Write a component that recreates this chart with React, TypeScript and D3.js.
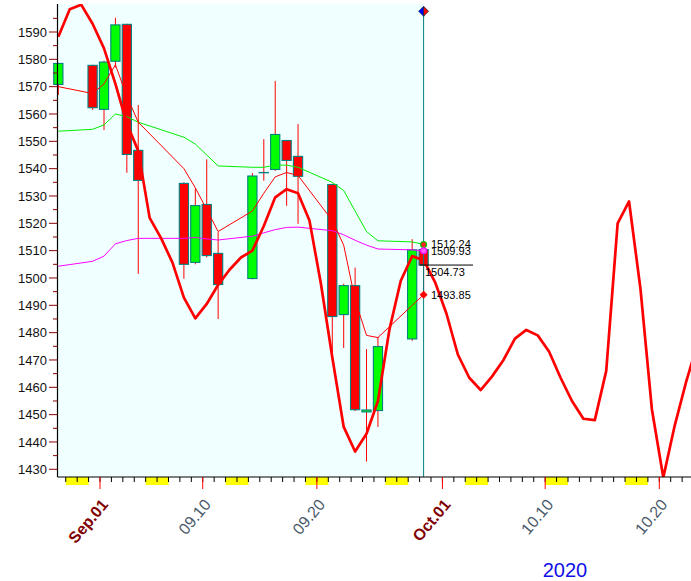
import React from "react"
import * as d3 from "d3"

// trading days with OHLC
const tradingDays = [
  "2020-08-28", "2020-08-31", "2020-09-01", "2020-09-02", "2020-09-03", "2020-09-04",
  "2020-09-08", "2020-09-09", "2020-09-10", "2020-09-11", "2020-09-14", "2020-09-15",
  "2020-09-16", "2020-09-17", "2020-09-18", "2020-09-21", "2020-09-22", "2020-09-23",
  "2020-09-24", "2020-09-25", "2020-09-28", "2020-09-29",
]
const opens = [1570.8, 1577.8, 1561.7, 1579.3, 1592.8, 1546.7, 1534.6, 1505.7, 1526.9, 1509.0, 1499.8, 1538.5, 1539.7, 1550.3, 1544.5, 1534.2, 1486.6, 1497.2, 1451.0, 1451.5, 1477.7, 1510.4]
const closes = [1578.5, 1562.3, 1579.0, 1592.6, 1545.2, 1535.7, 1505.0, 1526.5, 1508.2, 1497.6, 1537.3, 1538.6, 1552.5, 1543.0, 1537.2, 1485.9, 1497.2, 1451.8, 1451.7, 1474.9, 1510.3, 1504.73]
const highs = [1578.7, 1578.0, 1579.5, 1595.2, 1593.0, 1563.3, 1535.0, 1532.8, 1543.4, 1516.8, 1538.4, 1550.8, 1572.1, 1550.5, 1556.3, 1534.5, 1497.9, 1503.8, 1474.0, 1478.4, 1514.2, 1511.0]
const lows = [1567.0, 1561.5, 1554.1, 1577.0, 1538.5, 1501.5, 1499.7, 1505.0, 1507.5, 1485.0, 1499.5, 1535.6, 1539.2, 1526.4, 1519.8, 1470.4, 1474.4, 1451.3, 1432.8, 1445.5, 1477.0, 1494.0]

// moving averages on trading days
const fastMA = [1570, 1567.5, 1571, 1578, 1566.5, 1557, 1540, 1533, 1525, 1517, 1524.5, 1531, 1537, 1538.6, 1537.5, 1521, 1512, 1492, 1479, 1478.2, 1490, 1493.85]
const greenMA = [1553.7, 1554.4, 1556, 1560, 1559, 1557, 1551.5, 1549, 1545, 1541, 1540.5, 1540.5, 1541.3, 1541.3, 1540.5, 1535, 1532, 1524.5, 1517, 1513.6, 1513.2, 1512.24]
const magentaMA = [1504.3, 1506.1, 1508, 1512.5, 1513.7, 1514.5, 1514.5, 1514.8, 1514.3, 1513.9, 1515.3, 1516.5, 1517.7, 1518.5, 1518.6, 1517.3, 1515.8, 1513.8, 1512, 1510.6, 1510.3, 1509.93]

// cycle line, one value per calendar day from Aug 28 to Oct 23
const cycleStart = "2020-08-28"
const cycleValues = [
  1588.3, 1598.3, 1600, 1593, 1584, 1571, 1556.5, 1546.5, 1522, 1514.6,
  1505.6, 1492.8, 1485.2, 1490.5, 1497.5, 1503, 1507.5, 1510, 1519, 1529.5,
  1532.5, 1531, 1521, 1498, 1471, 1445.5, 1436.5, 1443, 1455, 1481,
  1499, 1508, 1506.5, 1498.5, 1487, 1472, 1463.5, 1459, 1464, 1470,
  1477.8, 1481, 1479, 1473, 1463.5, 1455, 1448.5, 1448, 1466, 1520,
  1528, 1496, 1452, 1427, 1446, 1462, 1476,
]

const yTicks = [1430, 1440, 1450, 1460, 1470, 1480, 1490, 1500, 1510, 1520, 1530, 1540, 1550, 1560, 1570, 1580, 1590]
const xLabels = [
  { date: "2020-09-01", text: "Sep.01", month: true },
  { date: "2020-09-10", text: "09.10", month: false },
  { date: "2020-09-20", text: "09.20", month: false },
  { date: "2020-10-01", text: "Oct.01", month: true },
  { date: "2020-10-10", text: "10.10", month: false },
  { date: "2020-10-20", text: "10.20", month: false },
]
const lastLabels = [
  { value: 1512.24, dy: 3 },
  { value: 1509.93, dy: 4 },
  { value: 1493.85, dy: 4 },
]
const yearLabel = "2020"

const W = 691
const H = 581
const left = 57.5
const top = 4
const bottom = 477
const font = "Arial, 'Liberation Sans', sans-serif"

const parse = d3.utcParse("%Y-%m-%d")

export default function App() {
  const xs = d3
    .scaleUtc()
    .domain([Date.UTC(2020, 8, 1), Date.UTC(2020, 9, 20)])
    .range([100, 659.3])
  const off = 4
  const y = d3.scaleLinear().domain([1430, 1590]).range([469.3, 32])

  const days = tradingDays.map(d => parse(d) as Date)
  const cx = (d: Date) => xs(d) + off
  const lastX = cx(days[days.length - 1])

  const maLine = d3
    .line<number>()
    .x((_, i) => cx(days[i]))
    .y(v => y(v))

  const start = parse(cycleStart) as Date
  const cycleLine = d3
    .line<number>()
    .x((_, i) => cx(d3.utcDay.offset(start, i)))
    .y(v => y(v))

  const tickDays = d3.utcDay.range(new Date(Date.UTC(2020, 7, 20)), new Date(Date.UTC(2020, 9, 31))).filter(d => xs(d) > left + 1 && xs(d) < W)
  const saturdays = tickDays.filter(d => d.getUTCDay() === 6)
  const redTicks = tickDays.filter(d => [1, 10, 20].includes(d.getUTCDate()))

  const minorTicks = yTicks.map(t => t + 5).filter(t => y(t) > top)

  return (
    <svg width={W} height={H} style={{ position: "absolute", left: 0, top: 0, background: "#fff" }} fontFamily={font}>
      <defs>
        <clipPath id="plot">
          <rect x={left} y={top} width={W - left} height={bottom - top} />
        </clipPath>
      </defs>
      <rect x={left} y={top} width={lastX - left} height={bottom - top} fill="#f0ffff" />

      <g clipPath="url(#plot)">
        {/* wicks */}
        {days.map((d, i) => (
          <line key={"w" + i} x1={cx(d)} x2={cx(d)} y1={y(highs[i])} y2={y(lows[i])} stroke="#ff0000" strokeWidth={1} />
        ))}
      </g>
      {/* bodies */}
      {days.map((d, i) => {
        const up = closes[i] >= opens[i]
        const y0 = y(Math.max(opens[i], closes[i]))
        const y1 = y(Math.min(opens[i], closes[i]))
        return (
          <rect
            key={"b" + i}
            x={cx(d) - 4.6}
            y={y0}
            width={9.2}
            height={Math.max(0.01, y1 - y0)}
            fill={up ? "#00ff00" : "#ff0000"}
            stroke="#008080"
            strokeWidth={1.1}
          />
        )
      })}

      <g clipPath="url(#plot)" fill="none">
        <path d={maLine(magentaMA) || ""} stroke="#ff00ff" strokeWidth={1} />
        <path d={maLine(greenMA) || ""} stroke="#00ee00" strokeWidth={1} />
        <path d={maLine(fastMA) || ""} stroke="#ff0000" strokeWidth={1} />
        <path d={cycleLine(cycleValues) || ""} stroke="#ff0000" strokeWidth={2.7} strokeLinejoin="round" />
      </g>

      {/* cursor line */}
      <line x1={lastX} x2={lastX} y1={14} y2={bottom} stroke="#008080" strokeWidth={1} />
      <path d={`M${lastX},6.3 L${lastX - 5},11.3 L${lastX},16.3 Z`} fill="#0000ff" stroke="#003050" strokeWidth={0.7} />
      <path d={`M${lastX},6.3 L${lastX + 5},11.3 L${lastX},16.3 Z`} fill="#ff0000" stroke="#003050" strokeWidth={0.7} />

      {/* last value markers */}
      <line x1={lastX - 4} x2={473} y1={y(closes[closes.length - 1])} y2={y(closes[closes.length - 1])} stroke="#000" strokeWidth={1} />
      <circle cx={lastX} cy={y(greenMA[greenMA.length - 1])} r={3} fill="#ff2020" stroke="#00cc00" strokeWidth={1.2} />
      <circle cx={lastX} cy={y(magentaMA[magentaMA.length - 1])} r={3} fill="#ff60ff" stroke="#ff00ff" strokeWidth={1.2} />
      <path
        d={`M${lastX},${y(fastMA[fastMA.length - 1]) - 4} l4,4 l-4,4 l-4,-4 Z`}
        fill="#ff0000"
      />
      {lastLabels.map((l, i) => (
        <text key={"ll" + i} x={431} y={y(l.value) + l.dy} fontSize={11} fill="#000">
          {l.value.toFixed(2)}
        </text>
      ))}
      <text x={425} y={y(closes[closes.length - 1]) + 11} fontSize={11} fill="#000">
        {closes[closes.length - 1].toFixed(2)}
      </text>

      {/* y axis */}
      <line x1={left} x2={left} y1={top} y2={bottom} stroke="#000" strokeWidth={1.2} />
      {yTicks.map(t => (
        <g key={"yt" + t}>
          <line x1={49} x2={left} y1={y(t)} y2={y(t)} stroke="#8b0000" strokeWidth={1} />
          <text x={47} y={y(t)} dy="0.36em" textAnchor="end" fontSize={13} fill="#111">
            {t}
          </text>
        </g>
      ))}
      {minorTicks.map(t => (
        <line key={"ym" + t} x1={53} x2={left} y1={y(t)} y2={y(t)} stroke="#8b0000" strokeWidth={1} />
      ))}

      {/* x axis */}
      {saturdays.map((d, i) => (
        <rect key={"we" + i} x={xs(d)} y={bottom} width={xs(d3.utcDay.offset(d, 2)) - xs(d)} height={8} fill="#ffff00" />
      ))}
      <line x1={left} x2={W} y1={bottom} y2={bottom} stroke="#000" strokeWidth={1.2} />
      {tickDays.map((d, i) => (
        <line key={"xt" + i} x1={xs(d)} x2={xs(d)} y1={bottom} y2={bottom + 5} stroke="#000" strokeWidth={1} />
      ))}
      {redTicks.map((d, i) => (
        <line key={"xr" + i} x1={xs(d)} x2={xs(d)} y1={bottom} y2={bottom + 12} stroke="#ff0000" strokeWidth={1} />
      ))}
      {xLabels.map(l => {
        const px = xs(parse(l.date) as Date) + 9
        const py = 505
        return (
          <text
            key={l.text}
            x={px}
            y={py}
            transform={`rotate(-50 ${px} ${py})`}
            textAnchor="end"
            fontSize={16}
            fontWeight={l.month ? "bold" : "normal"}
            fill={l.month ? "#800000" : "#4a5a6a"}
          >
            {l.text}
          </text>
        )
      })}
      <text x={565} y={577} textAnchor="middle" fontSize={20} fill="#1010e8">
        {yearLabel}
      </text>
    </svg>
  )
}
